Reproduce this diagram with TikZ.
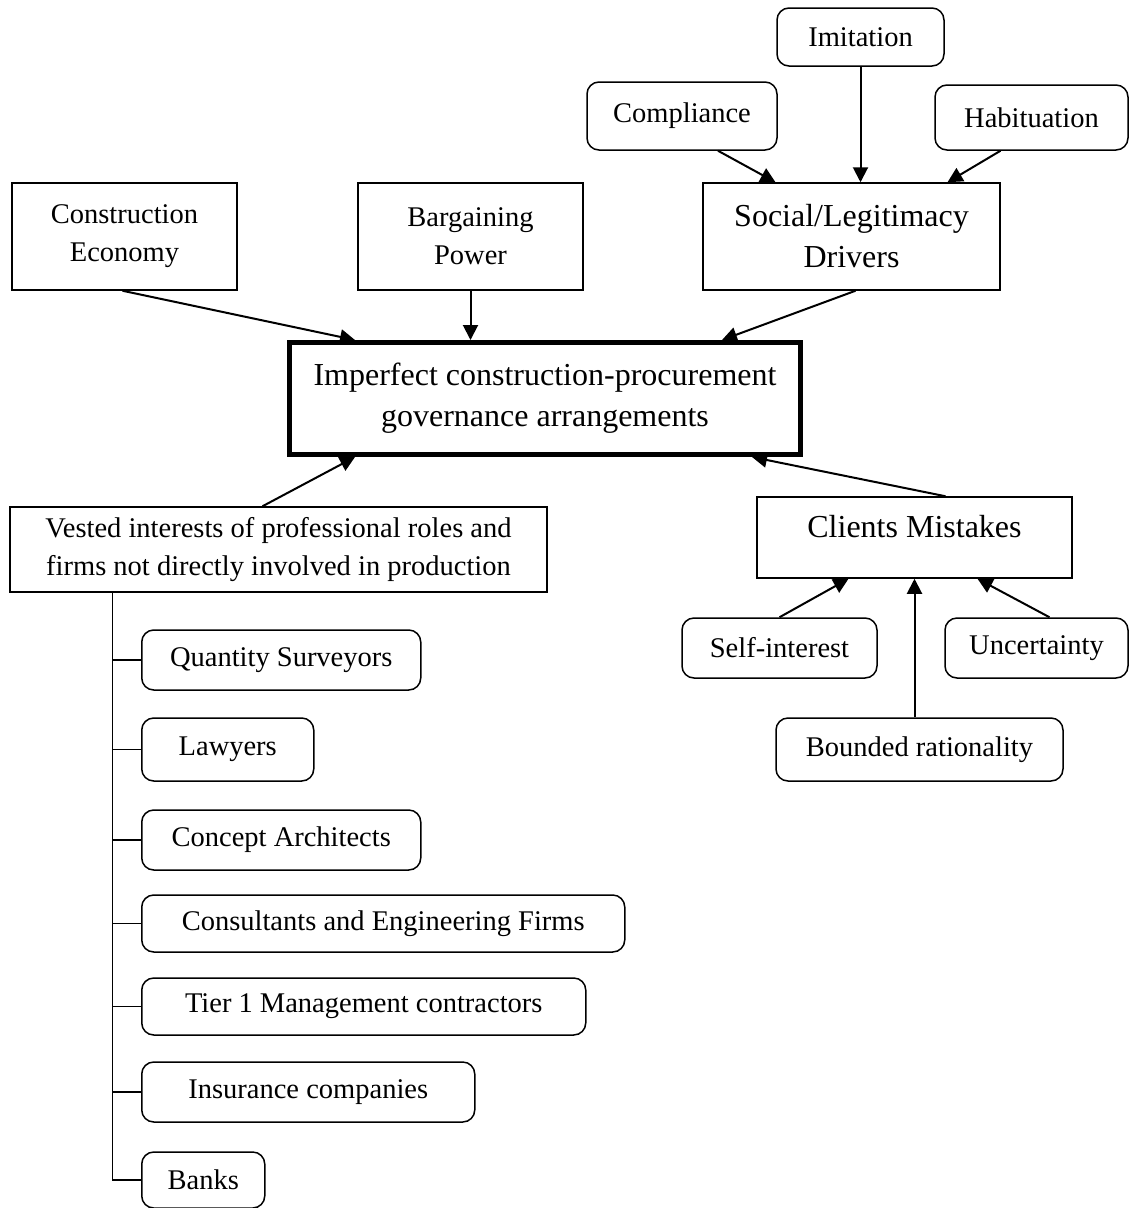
\documentclass[tikz,border=0pt]{standalone}
\usepackage{fontspec}
\setmainfont{Liberation Serif}
\usepackage{tikz}
\usetikzlibrary{arrows.meta}
\usetikzlibrary{positioning}
\usetikzlibrary{calc}
\tikzstyle{arrow} = [line width=2pt, -{Triangle[length=15pt,width=15pt]}]
\tikzstyle{sqbox} = [draw, line width=1.5pt, align=center, inner sep=0pt, font=\fontsize{28.5}{38}\selectfont]
\tikzstyle{rbox} = [sqbox, rounded corners=12pt]
\tikzstyle{bigbox} = [sqbox, font=\fontsize{32}{41}\selectfont]

\begin{document}
\begin{tikzpicture}[x=1pt, y=-1pt]
                \useasboundingbox (0,0) rectangle (1128,1208);

                % social drivers
                \node[rbox, minimum width=167, minimum height=58] (imit) at (860.5,37) {Imitation};
                \node[rbox, minimum width=190, minimum height=68] (comp) at (682,116) {Compliance};
                \node[rbox, minimum width=193, minimum height=65] (hab) at (1031.5,117.5) {Habituation};
                \node[bigbox, minimum width=297, minimum height=107] (soc) at (851.5,236.5) {Social/Legitimacy\\Drivers};

                \node[sqbox, minimum width=225, minimum height=107] (econ) at (124.5,236.5) {Construction\\Economy};
                \node[sqbox, minimum width=225, minimum height=107] (barg) at (470.5,236.5) {Bargaining\\Power};

                \node[bigbox, line width=5pt, minimum width=511, minimum height=112] (imp) at (545,398.5)
                    {Imperfect construction-procurement\\governance arrangements};

                \node[sqbox, minimum width=537, minimum height=85] (vest) at (278.5,549.5)
                    {Vested interests of professional roles and\\firms not directly involved in production};
                \node[bigbox, minimum width=315, minimum height=81, text height=22pt, text depth=22pt] (cli) at (914.5,537.5) {Clients Mistakes};

                \node[rbox, minimum width=195, minimum height=60] (self) at (779.5,648) {Self-interest};
                \node[rbox, minimum width=183, minimum height=60] (unc) at (1036.5,648) {Uncertainty};
                \node[rbox, minimum width=287, minimum height=63] (bound) at (919.5,749.5) {Bounded rationality};

                \draw[arrow] ([xshift=36pt]comp.south) -- ([xshift=-76pt]soc.north);
                \draw[arrow] (imit.south) -- (imit.south |- soc.north);
                \draw[arrow] ([xshift=-31pt]hab.south) -- ([xshift=96pt]soc.north);

                \draw[arrow] ([xshift=-2pt]econ.south) -- ([xshift=-190pt]imp.north);
                \draw[arrow] (barg.south) -- (barg.south |- imp.north);
                \draw[arrow] ([xshift=4pt]soc.south) -- ([xshift=177pt]imp.north);
                \draw[arrow] ([xshift=-16pt]vest.north) -- ([xshift=-190pt]imp.south);
                \draw[arrow] ([xshift=31pt]cli.north) -- ([xshift=207pt]imp.south);

                \draw[arrow] (self.north) -- ([xshift=-66pt]cli.south);
                \draw[arrow] ([xshift=-5pt]bound.north) -- ([xshift=-5pt]bound.north |- cli.south);
                \draw[arrow] ([xshift=13pt]unc.north) -- ([xshift=63pt]cli.south);

                % vested interest roles
                \coordinate (spine) at ([xshift=103pt]vest.south west);
                \foreach \nm/\y/\w/\h/\t in {qs/660/279/60/Quantity Surveyors, law/749.5/172/63/Lawyers,
                    arch/840/279/60/Concept Architects, cons/923.5/483/57/Consultants and Engineering Firms,
                    tier/1006.5/444/57/Tier 1 Management contractors, ins/1092/333/60/Insurance companies,
                    banks/1180/123/56/Banks} {
                    \node[rbox, anchor=west, minimum width=\w, minimum height=\h] (\nm) at (141,\y) {\t};
                    \draw[line width=1.5pt] (spine |- \nm.west) -- (\nm.west);
                }
                \draw[line width=1.5pt] (spine) |- (banks.west);
            \end{tikzpicture}
\end{document}
